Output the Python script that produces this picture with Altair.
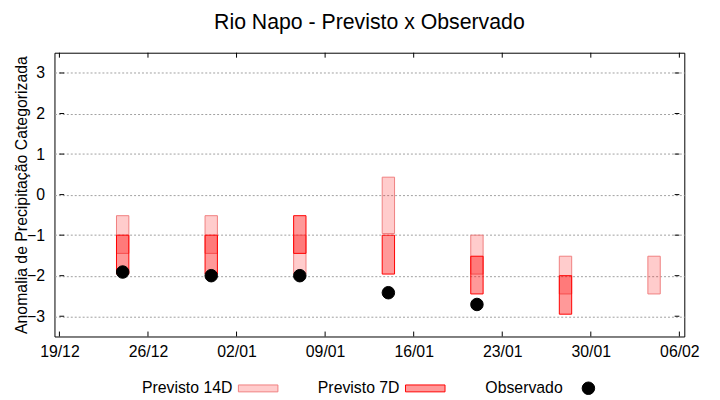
import altair as alt
import pandas as pd

# ---- data ----
dates = ["2023-12-24", "2023-12-31", "2024-01-07", "2024-01-14",
         "2024-01-21", "2024-01-28", "2024-02-04"]
p14_low = [-1.45, -1.45, -1.96, -0.96, -1.96, -2.45, -2.45]
p14_high = [-0.52, -0.52, -1.00, 0.43, -1.00, -1.52, -1.52]
p7_dates = ["2023-12-24", "2023-12-31", "2024-01-07", "2024-01-14",
            "2024-01-21", "2024-01-28"]
p7_low = [-1.96, -1.96, -1.45, -1.96, -2.45, -2.95]
p7_high = [-1.00, -1.00, -0.52, -1.00, -1.52, -2.00]
obs_dates = ["2023-12-24", "2023-12-31", "2024-01-07", "2024-01-14", "2024-01-21"]
obs_vals = [-1.91, -2.00, -2.00, -2.42, -2.71]

x_ticks = ["2023-12-19", "2023-12-26", "2024-01-02", "2024-01-09",
           "2024-01-16", "2024-01-23", "2024-01-30", "2024-02-06"]
y_ticks = [-3, -2, -1, 0, 1, 2, 3]
series = ["Previsto 14D", "Previsto 7D", "Observado"]

df14 = pd.DataFrame({"date": dates, "low": p14_low, "high": p14_high})
df7 = pd.DataFrame({"date": p7_dates, "low": p7_low, "high": p7_high})
dfo = pd.DataFrame({"date": obs_dates, "val": obs_vals, "serie": series[2]})
dfxt = pd.DataFrame({"date": x_ticks})
dfyt = pd.DataFrame({"v": y_ticks})

FONT = "Liberation Sans"
x_dom = [x_ticks[0], x_ticks[-1]]
xscale = alt.Scale(type="utc", domain=x_dom)
yscale = alt.Scale(domain=[-3.5, 3.5], nice=False, zero=False)

rect_path = "M-3.16,-0.55L3.16,-0.55L3.16,0.55L-3.16,0.55Z"

leg = alt.Legend(title=None)
fill_enc = alt.Fill("serie:N", scale=alt.Scale(type="ordinal", domain=series,
                                               range=["#ffcccc", "#ff9999", "#000000"]),
                    legend=leg)
stroke_enc = alt.Stroke("serie:N", scale=alt.Scale(type="ordinal", domain=series,
                                                   range=["#f08080", "#ff0000", "#000000"]),
                        legend=leg)
shape_enc = alt.Shape("serie:N", scale=alt.Scale(type="ordinal", domain=series,
                                                 range=[rect_path, rect_path, "circle"]),
                      legend=leg)

x_enc = alt.X("date:T", scale=xscale, title=None,
              axis=alt.Axis(values=x_ticks, format="%d/%m", grid=False, ticks=False,
                            domain=False, labelFont=FONT, labelFontSize=16, labelColor="#000",
                            labelPadding=7, labelFlush=False, labelOverlap=False))
y_axis = alt.Axis(values=y_ticks, grid=True, gridColor="#a0a0a0", gridDash=[2, 2],
                  ticks=False, domain=False, labelFont=FONT, labelFontSize=16,
                  labelColor="#000", labelPadding=10,
                  title="Anomalia de Precipitação Categorizada", titleFont=FONT,
                  titleFontSize=16, titleFontWeight="normal", titleColor="#000",
                  titleX=-28, titleBaseline="alphabetic")

bars14 = alt.Chart(df14).mark_bar(size=12.5, strokeWidth=1, fill="#ff0000",
                                  fillOpacity=0.2, stroke="#f08080").encode(
    x=x_enc,
    y=alt.Y("low:Q", scale=yscale, axis=y_axis),
    y2="high:Q",
)
bars7 = alt.Chart(df7).mark_bar(size=12.5, strokeWidth=1, fill="#ff0000",
                                fillOpacity=0.4, stroke="#ff0000").encode(
    x="date:T", y="low:Q", y2="high:Q",
)
pts = alt.Chart(dfo).mark_point(filled=True, size=160, strokeWidth=1, opacity=1).encode(
    x="date:T", y="val:Q",
    fill=fill_enc, stroke=stroke_enc, shape=shape_enc,
)

tick_len_y = 5 / 41.0  # tick length in data units (about 5px)
xt_bottom = alt.Chart(dfxt).mark_rule(color="black", strokeWidth=1).encode(
    x="date:T", y=alt.datum(-3.5), y2=alt.datum(-3.5 + tick_len_y))
xt_top = alt.Chart(dfxt).mark_rule(color="black", strokeWidth=1).encode(
    x="date:T", y=alt.datum(3.5), y2=alt.datum(3.5 - tick_len_y))
yt_left = alt.Chart(dfyt).mark_rule(color="black", strokeWidth=1).encode(
    y="v:Q", x=alt.datum(alt.DateTime(year=2023, month=12, date=19, utc=True)),
    x2=alt.datum(alt.DateTime(year=2023, month=12, date=19, hours=9, utc=True)))
yt_right = alt.Chart(dfyt).mark_rule(color="black", strokeWidth=1).encode(
    y="v:Q", x=alt.datum(alt.DateTime(year=2024, month=2, date=6, utc=True)),
    x2=alt.datum(alt.DateTime(year=2024, month=2, date=5, hours=15, utc=True)))

chart = alt.layer(bars14, bars7, pts, xt_bottom, xt_top, yt_left, yt_right).properties(
    width=637, height=287,
    title=alt.TitleParams("Rio Napo - Previsto x Observado", font=FONT, fontSize=21.5,
                          fontWeight="normal", color="#000", offset=2,
                          baseline="alphabetic", anchor="middle"),
    padding={"left": 47, "top": 43, "right": 28, "bottom": 62},
    autosize=alt.AutoSizeParams(type="none"),
).configure_view(
    stroke="black", strokeWidth=1
).configure_legend(
    orient="none", legendX=198, legendY=331, direction="horizontal",
    labelFont=FONT, labelFontSize=16, labelColor="#000",
    labelAlign="right", labelOffset={"expr": "-34"}, columnPadding=38,
    symbolSize=160, symbolStrokeWidth=1, padding=0, labelLimit=300,
)

chart.save("out.html", embed_options={"renderer": "svg", "actions": False})
